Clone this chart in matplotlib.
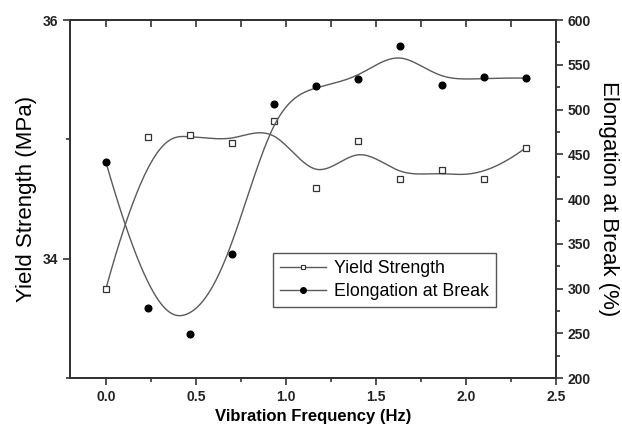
import numpy as np
import matplotlib as mpl
mpl.use("Agg")
import matplotlib.pyplot as plt
from matplotlib.ticker import MultipleLocator

# Data
freq = [0.0, 0.233, 0.467, 0.70, 0.933, 1.167, 1.40, 1.633, 1.867, 2.10, 2.333]
yield_strength = [33.75, 35.02, 35.04, 34.97, 35.15, 34.59, 34.99, 34.67, 34.74, 34.67, 34.93]
elongation = [441, 278, 249, 339, 506, 526, 534, 571, 527, 536, 535]


def bspline(px, py, num=400, k=3):
    '''
    Clamped cubic B-spline through the data as control points (Origin style)
    '''
    px = np.asarray(px, float)
    py = np.asarray(py, float)
    n = len(px)
    knots = np.concatenate([np.zeros(k), np.arange(n - k + 1), np.full(k, n - k)])
    t = np.linspace(0, n - k - 1e-9, num)
    m = len(knots) - 1
    B = np.zeros((num, m))
    for i in range(m):
        B[:, i] = (knots[i] <= t) & (t < knots[i + 1])
    for d in range(1, k + 1):
        Bn = np.zeros((num, m - d))
        for i in range(m - d):
            val = np.zeros(num)
            den = knots[i + d] - knots[i]
            if den > 0:
                val += (t - knots[i]) / den * B[:, i]
            den2 = knots[i + d + 1] - knots[i + 1]
            if den2 > 0:
                val += (knots[i + d + 1] - t) / den2 * B[:, i + 1]
            Bn[:, i] = val
        B = Bn
    return B @ px, B @ py


plt.rcParams['font.family'] = ['Liberation Sans', 'DejaVu Sans']

fig = plt.figure(figsize=(6.22, 4.33), dpi=100)
ax = fig.add_axes([0.1125, 0.127, 0.7814, 0.8268])
ax2 = ax.twinx()

line_col = '#5a5a5a'
edge_col = '#333333'

# Yield strength (left axis)
sx, sy = bspline(freq, yield_strength)
ax.plot(sx, sy, color=line_col, lw=1.0)
ax.plot(freq, yield_strength, ls='none', marker='s', ms=4.5, mfc='white',
        mec=edge_col, mew=0.9)

# Elongation (right axis)
ex, ey = bspline(freq, elongation)
ax2.plot(ex, ey, color=line_col, lw=1.0)
ax2.plot(freq, elongation, ls='none', marker='o', ms=4.8, mfc='black',
         mec='black')

ax.set_xlim(-0.2, 2.5)
ax.set_ylim(33, 36)
ax2.set_ylim(200, 600)

ax.xaxis.set_major_locator(MultipleLocator(0.5))
ax.xaxis.set_minor_locator(MultipleLocator(0.25))
ax.yaxis.set_major_locator(MultipleLocator(2))
ax.yaxis.set_minor_locator(MultipleLocator(1))
ax2.yaxis.set_major_locator(MultipleLocator(50))
ax2.yaxis.set_minor_locator(MultipleLocator(25))

ax.xaxis.set_major_formatter(lambda v, p: f'{v:.1f}')

for a in (ax, ax2):
    for s in a.spines.values():
        s.set_color(edge_col)
        s.set_linewidth(1.4)

ax.tick_params(which='both', direction='out', color=edge_col, width=1.2,
               top=False, right=False)
ax.tick_params(which='major', length=5)
ax.tick_params(which='minor', length=3)
ax2.tick_params(which='both', direction='out', color=edge_col, width=1.2)
ax2.tick_params(which='major', length=5)
ax2.tick_params(which='minor', length=3)

secx = ax.secondary_xaxis('top')
secx.xaxis.set_major_locator(MultipleLocator(0.5))
secx.xaxis.set_minor_locator(MultipleLocator(0.25))
secx.tick_params(which='both', direction='in', labeltop=False, color=edge_col,
                 width=1.2, length=5)
secx.spines['top'].set_linewidth(1.4)
secx.spines['top'].set_color(edge_col)

for lab in ax.get_xticklabels() + ax.get_yticklabels() + ax2.get_yticklabels():
    lab.set_fontweight('bold')
    lab.set_fontsize(10)
    lab.set_color('#222222')

ax.set_xlabel('Vibration Frequency (Hz)', fontsize=12, fontweight='bold',
              labelpad=4)
ax.set_ylabel('Yield Strength (MPa)', fontsize=16, labelpad=4)
ax2.set_ylabel('Elongation at Break (%)', fontsize=16, rotation=270,
               labelpad=20)

l1 = plt.Line2D([], [], color=line_col, lw=1.0, marker='s', ms=3.5,
                mfc='white', mec=edge_col, mew=0.8)
l2 = plt.Line2D([], [], color=line_col, lw=1.0, marker='o', ms=4,
                mfc='black', mec='black')
leg = ax.legend([l1, l2], ['Yield Strength', 'Elongation at Break'],
                loc='lower left', bbox_to_anchor=(0.418, 0.198),
                borderaxespad=0, fontsize=12.8, handlelength=2.6,
                fancybox=False, framealpha=1, edgecolor='#555555',
                labelspacing=0.35, borderpad=0.4, handletextpad=0.4)
leg.get_frame().set_linewidth(1.0)

fig.savefig('out.png', dpi=100)
